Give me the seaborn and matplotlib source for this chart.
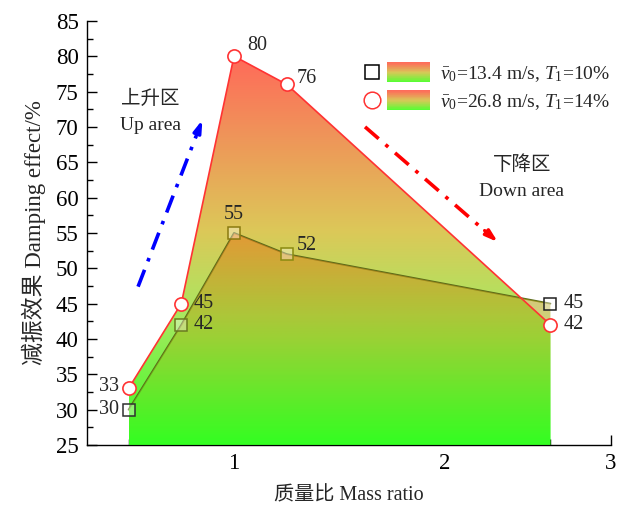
import numpy as np
import matplotlib
matplotlib.use("Agg")
import matplotlib.pyplot as plt
import seaborn as sns
from matplotlib.colors import LinearSegmentedColormap
from matplotlib.legend_handler import HandlerBase
from matplotlib.lines import Line2D
from matplotlib.patches import Rectangle

# ---------------- data ----------------
mass_ratio = [0.5, 0.75, 1.0, 1.25, 2.5]
effect_low = [30, 42, 55, 52, 45]    # v0 = 13.4 m/s, T1 = 10%
effect_high = [33, 45, 80, 76, 42]   # v0 = 26.8 m/s, T1 = 14%
label_low = r"$\bar{v}_0$=13.4 m/s, $T_\mathrm{1}$=10%"
label_high = r"$\bar{v}_0$=26.8 m/s, $T_\mathrm{1}$=14%"
xtick_pos = [1, 2, 2.787]
xtick_labels = ["1", "2", "3"]
ytick_vals = list(range(25, 90, 5))

sns.set_style("ticks")
plt.rcParams["font.family"] = ["Liberation Serif", "Noto Sans CJK SC"]
plt.rcParams["mathtext.fontset"] = "custom"
plt.rcParams["mathtext.rm"] = "Liberation Serif"
plt.rcParams["mathtext.it"] = "Liberation Serif:italic"
plt.rcParams["mathtext.bf"] = "Liberation Serif:bold"

fig = plt.figure(figsize=(6.26, 5.08), dpi=100)
ax = fig.add_axes([0.139, 0.124, 0.837, 0.835])

YMIN = 25
cmap_high = LinearSegmentedColormap.from_list(
    "high", [(0.0, "#33ff22"), (0.33, "#a8e860"), (0.55, "#dcc858"), (1.0, "#ff6a5a")])
cmap_low = LinearSegmentedColormap.from_list(
    "low", [(0.0, "#33ff22"), (0.5, "#a0c020"), (1.0, "#e87a20")])


def gradient_fill(x, y, cmap, alpha, z):
    poly = ax.fill_between(x, YMIN, y, facecolor="none", edgecolor="none", zorder=z)
    path = poly.get_paths()[0]
    grad = np.linspace(0, 1, 256).reshape(-1, 1)
    im = ax.imshow(grad, cmap=cmap, origin="lower", aspect="auto",
                   extent=[min(x), max(x), YMIN, max(y)], alpha=alpha,
                   interpolation="bilinear", zorder=z)
    im.set_clip_path(path, ax.transData)
    return im


# circle series fill
gradient_fill(mass_ratio, effect_high, cmap_high, 1.0, 1)
# square series line
sns.lineplot(x=mass_ratio, y=effect_low, ax=ax, color="#5a6a18", lw=1.3, zorder=2)
# square series fill (semi-transparent, on top)
gradient_fill(mass_ratio, effect_low, cmap_low, 0.6, 3)
# square markers (tinted where inside the fill)
sq_edge = ["#303030", "#6a7a20", "#8a7a10", "#8a8a10", "#202020"]
for xv, yv, ec in zip(mass_ratio, effect_low, sq_edge):
    ax.plot([xv], [yv], marker="s", markersize=8.5, markerfacecolor=(1, 1, 1, 0.35),
            markeredgecolor=ec, markeredgewidth=1.1, linestyle="none", zorder=3.5)
# circle series line + markers
sns.lineplot(x=mass_ratio, y=effect_high, ax=ax, color="#ff3333", lw=1.2,
             marker="o", markersize=9.5, markerfacecolor="white",
             markeredgecolor="#ff3333", markeredgewidth=1.2, zorder=4)

# value labels (offsets in pixels)
ann_fs = 14.5
offs_high = [(-10, 2, "right"), (12, 0, "left"), (13, 11, "left"), (10, 6, "left"), (13, 0, "left")]
offs_low = [(-10, 0, "right"), (12, 0, "left"), (0, 18, "center"), (10, 9, "left"), (13, 0, "left")]
for xv, yv, (dx, dy, ha) in zip(mass_ratio, effect_high, offs_high):
    ax.annotate(f"{yv}", (xv, yv), xytext=(dx, dy), textcoords="offset pixels",
                ha=ha, va="center", fontsize=ann_fs, zorder=6)
for xv, yv, (dx, dy, ha) in zip(mass_ratio, effect_low, offs_low):
    ax.annotate(f"{yv}", (xv, yv), xytext=(dx, dy), textcoords="offset pixels",
                ha=ha, va="center", fontsize=ann_fs, zorder=6)

# region notes
ax.text(0.602, 73.9, "上升区", ha="center", va="center", fontsize=14)
ax.text(0.602, 70.2, "Up area", ha="center", va="center", fontsize=14)
ax.text(2.365, 64.7, "下降区", ha="center", va="center", fontsize=14)
ax.text(2.365, 60.9, "Down area", ha="center", va="center", fontsize=14)

# arrows
def dashed_arrow(x0, y0, x1, y1, color):
    fx = x0 + (x1 - x0) * 0.9
    fy = y0 + (y1 - y0) * 0.9
    ax.plot([x0, fx], [y0, fy], color=color, lw=2.6, ls=(0, (5, 2.5, 1, 2.5)), zorder=5,
            solid_capstyle="butt")
    ax.annotate("", xy=(x1, y1), xytext=(fx, fy),
                arrowprops=dict(arrowstyle="-|>,head_length=0.7,head_width=0.22",
                                color=color, lw=2.4, shrinkA=0, shrinkB=0), zorder=5)

dashed_arrow(0.545, 47.4, 0.850, 71.0, "#0000ff")
dashed_arrow(1.621, 70.0, 2.251, 53.7, "#ff0000")

# axes
ax.set_xlim(0.303, 2.787)
ax.set_ylim(25, 85)
ax.set_xticks(xtick_pos)
ax.set_xticklabels(xtick_labels)
ax.set_xticks([0.5, 1.5, 2.5], minor=True)
ax.set_yticks(ytick_vals)
ax.set_yticks(np.arange(27.5, 85, 5), minor=True)
ax.tick_params(axis="both", which="major", direction="in", length=7, width=1,
               labelsize=16.5, color="black", labelcolor="black", pad=6)
ax.tick_params(axis="both", which="minor", direction="in", length=4, width=1, color="black")
for s in ["top", "right"]:
    ax.spines[s].set_visible(False)
for s in ["left", "bottom"]:
    ax.spines[s].set_color("black")
    ax.spines[s].set_linewidth(1.0)
ax.set_xlabel("质量比 Mass ratio", fontsize=14.5, labelpad=9)
ax.set_ylabel("减振效果 Damping effect/%", fontsize=16.5, labelpad=7)


# legend with marker + gradient patch
class GradHandler(HandlerBase):
    def __init__(self, marker, mec, ms, cmap):
        super().__init__()
        self.marker, self.mec, self.ms, self.cmap = marker, mec, ms, cmap

    def create_artists(self, legend, orig_handle, xdescent, ydescent, width, height,
                       fontsize, trans):
        arts = []
        x0 = -xdescent
        y0 = -ydescent
        mk = Line2D([x0 + 0.12 * width], [y0 + height / 2], marker=self.marker,
                    markersize=self.ms, markerfacecolor="white", markeredgecolor=self.mec,
                    markeredgewidth=1.1, linestyle="none", transform=trans)
        arts.append(mk)
        bx = x0 + 0.34 * width
        bw = width - 0.34 * width
        n = 30
        for i in range(n):
            arts.append(Rectangle((bx, y0 + height * i / n), bw, height / n + 0.3,
                                  facecolor=self.cmap(1 - (i + 0.5) / n), edgecolor="none",
                                  transform=trans))
        return arts


legend_cmap = LinearSegmentedColormap.from_list("leg", ["#ff6a5a", "#d8c858", "#55ff33"])
h1 = Line2D([], [])
h2 = Line2D([], [])
ax.legend([h1, h2], [label_low, label_high],
          handler_map={h1: GradHandler("s", "black", 10, legend_cmap),
                       h2: GradHandler("o", "#ff3333", 12, legend_cmap)},
          loc="upper left", bbox_to_anchor=(0.529, 0.901), frameon=False,
          fontsize=14, handlelength=3.4, handleheight=1.15, handletextpad=0.5,
          labelspacing=0.35, borderpad=0, borderaxespad=0)

fig.savefig("out.png", dpi=100)
